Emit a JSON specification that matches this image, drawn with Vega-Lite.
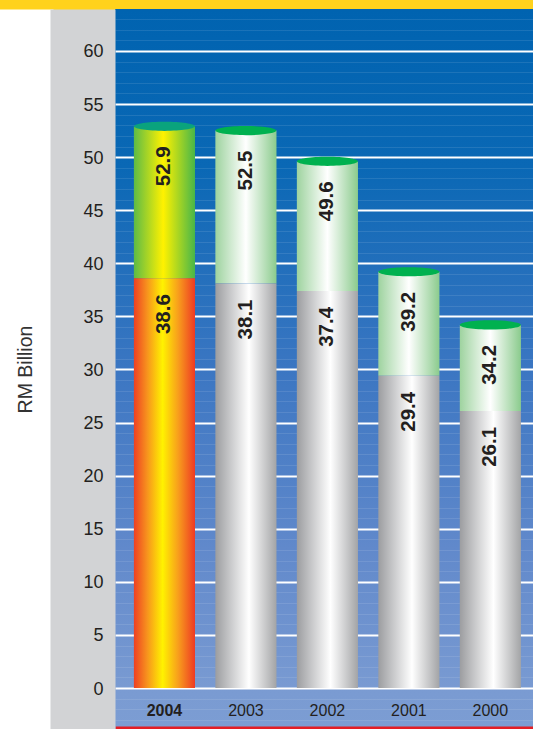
{
  "$schema": "https://vega.github.io/schema/vega-lite/v6.json",
  "width": 418,
  "height": 720,
  "autosize": {"type": "none"},
  "padding": {"left": 115, "top": 9, "right": 0, "bottom": 0},
  "background": "#FFD21C",
  "view": {
    "stroke": null,
    "fill": {
      "gradient": "linear", "x1": 0, "y1": 0, "x2": 0, "y2": 1,
      "stops": [
        {"offset": 0, "color": "#0063B0"},
        {"offset": 0.22, "color": "#0A68B5"},
        {"offset": 0.5, "color": "#3B76C2"},
        {"offset": 0.75, "color": "#6189CB"},
        {"offset": 0.95, "color": "#7A9BD2"},
        {"offset": 1, "color": "#7C9DD3"}
      ]
    }
  },
  "data": {
    "values": [
      {"year": "2004", "lower": 38.6, "upper": 52.9},
      {"year": "2003", "lower": 38.1, "upper": 52.5},
      {"year": "2002", "lower": 37.4, "upper": 49.6},
      {"year": "2001", "lower": 29.4, "upper": 39.2},
      {"year": "2000", "lower": 26.1, "upper": 34.2}
    ]
  },
  "encoding": {
    "x": {
      "field": "year",
      "type": "nominal",
      "sort": ["2004", "2003", "2002", "2001", "2000"],
      "scale": {"paddingInner": 0.25, "paddingOuter": 0.19, "align": 0.61},
      "axis": {
        "orient": "bottom",
        "offset": -1.5,
        "domain": true,
        "domainColor": "#E31E24",
        "domainWidth": 3,
        "ticks": false,
        "tickSize": 0,
        "grid": false,
        "labelPadding": -17.5,
        "labelBaseline": "middle",
        "labelAngle": 0,
        "labelFont": "Liberation Sans",
        "labelFontSize": 16,
        "labelColor": "#231F20",
        "labelFontWeight": {"condition": {"test": "datum.value === '2004'", "value": "bold"}, "value": "normal"},
        "title": null
      }
    }
  },
  "layer": [
    {
      "transform": [{"filter": "datum.year !== '2004'"}],
      "mark": {
        "type": "bar",
        "fill": {
          "gradient": "linear", "x1": 0, "y1": 0, "x2": 1, "y2": 0,
          "stops": [
            {"offset": 0, "color": "#9ED39F"},
            {"offset": 0.5, "color": "#FFFFFF"},
            {"offset": 1, "color": "#8BCB8D"}
          ]
        }
      },
      "encoding": {
        "y": {
          "field": "upper",
          "type": "quantitative",
          "scale": {"domain": [-3.86, 63.95], "nice": false, "zero": false},
          "axis": {
            "orient": "left",
            "offset": 89,
            "domain": true,
            "domainColor": "#FFFFFF",
            "domainWidth": 54,
            "labels": false,
            "ticks": false,
            "tickSize": 0,
            "title": null,
            "grid": true,
            "gridColor": "#FFFFFF",
            "gridOpacity": 0.1,
            "gridWidth": 1,
            "values": [-3, -2, -1, 1, 2, 3, 4, 6, 7, 8, 9, 11, 12, 13, 14, 16, 17, 18, 19, 21, 22, 23, 24, 26, 27, 28, 29, 31, 32, 33, 34, 36, 37, 38, 39, 41, 42, 43, 44, 46, 47, 48, 49, 51, 52, 53, 54, 56, 57, 58, 59, 61, 62, 63]
          }
        },
        "y2": {"field": "lower"}
      }
    },
    {
      "transform": [{"filter": "datum.year === '2004'"}],
      "mark": {
        "type": "bar",
        "fill": {
          "gradient": "linear", "x1": 0, "y1": 0, "x2": 1, "y2": 0,
          "stops": [
            {"offset": 0, "color": "#5DBB46"},
            {"offset": 0.48, "color": "#FFF200"},
            {"offset": 1, "color": "#48B649"}
          ]
        }
      },
      "encoding": {
        "y": {
          "field": "upper",
          "type": "quantitative",
          "axis": {
            "orient": "left",
            "offset": 32.5,
            "domain": true,
            "domainColor": "#D2D3D5",
            "domainWidth": 65,
            "labels": false,
            "ticks": false,
            "tickSize": 0,
            "grid": false,
            "title": null
          }
        },
        "y2": {"field": "lower"}
      }
    },
    {
      "transform": [{"filter": "datum.year !== '2004'"}],
      "mark": {
        "type": "bar",
        "fill": {
          "gradient": "linear", "x1": 0, "y1": 0, "x2": 1, "y2": 0,
          "stops": [
            {"offset": 0, "color": "#9C9DA0"},
            {"offset": 0.55, "color": "#FFFFFF"},
            {"offset": 1, "color": "#A3A4A6"}
          ]
        }
      },
      "encoding": {
        "y": {
          "field": "lower",
          "type": "quantitative",
          "axis": {
            "orient": "left",
            "offset": 0,
            "values": [0, 5, 10, 15, 20, 25, 30, 35, 40, 45, 50, 55, 60],
            "grid": true,
            "gridColor": "#FFFFFF",
            "gridWidth": 2,
            "gridOpacity": 1,
            "domain": false,
            "ticks": false,
            "tickSize": 0,
            "labelPadding": 12,
            "labelAlign": "right",
            "labelBaseline": "middle",
            "labelOffset": 1,
            "labelFont": "Liberation Sans",
            "labelFontSize": 18,
            "labelColor": "#231F20",
            "title": "RM Billion",
            "titleFont": "Liberation Sans",
            "titleFontSize": 19.5,
            "titleFontWeight": "normal",
            "titleColor": "#333333",
            "titleBaseline": "alphabetic",
            "titlePadding": 7.5,
            "minExtent": 76,
            "maxExtent": 76
          }
        },
        "y2": {"datum": 0}
      }
    },
    {
      "transform": [{"filter": "datum.year === '2004'"}],
      "mark": {
        "type": "bar",
        "fill": {
          "gradient": "linear", "x1": 0, "y1": 0, "x2": 1, "y2": 0,
          "stops": [
            {"offset": 0, "color": "#EE4023"},
            {"offset": 0.22, "color": "#F7941D"},
            {"offset": 0.47, "color": "#FFF200"},
            {"offset": 0.72, "color": "#F8A01C"},
            {"offset": 1, "color": "#EE3A24"}
          ]
        }
      },
      "encoding": {
        "y": {"field": "lower", "type": "quantitative", "axis": null},
        "y2": {"datum": 0}
      }
    },
    {
      "mark": {
        "type": "point",
        "shape": "M -1 0 A 1 0.15 0 1 0 1 0 A 1 0.15 0 1 0 -1 0 Z",
        "size": 3721,
        "filled": true,
        "opacity": 1,
        "strokeWidth": 0
      },
      "encoding": {
        "y": {"field": "upper", "type": "quantitative", "axis": null},
        "fill": {"condition": {"test": "datum.year === '2004'", "value": "#0AA37D"}, "value": "#00B14F"}
      }
    },
    {
      "mark": {
        "type": "text",
        "angle": 270,
        "align": "right",
        "baseline": "middle",
        "dx": -20,
        "font": "Liberation Sans",
        "fontWeight": "bold",
        "fontSize": 20.5,
        "fill": "#231F20"
      },
      "encoding": {
        "y": {"field": "upper", "type": "quantitative", "axis": null},
        "text": {"field": "upper", "type": "quantitative", "format": ".1f"}
      }
    },
    {
      "mark": {
        "type": "text",
        "angle": 270,
        "align": "right",
        "baseline": "middle",
        "dx": -16,
        "font": "Liberation Sans",
        "fontWeight": "bold",
        "fontSize": 20.5,
        "fill": "#231F20"
      },
      "encoding": {
        "y": {"field": "lower", "type": "quantitative", "axis": null},
        "text": {"field": "lower", "type": "quantitative", "format": ".1f"}
      }
    }
  ],
  "resolve": {"axis": {"y": "independent"}}
}
